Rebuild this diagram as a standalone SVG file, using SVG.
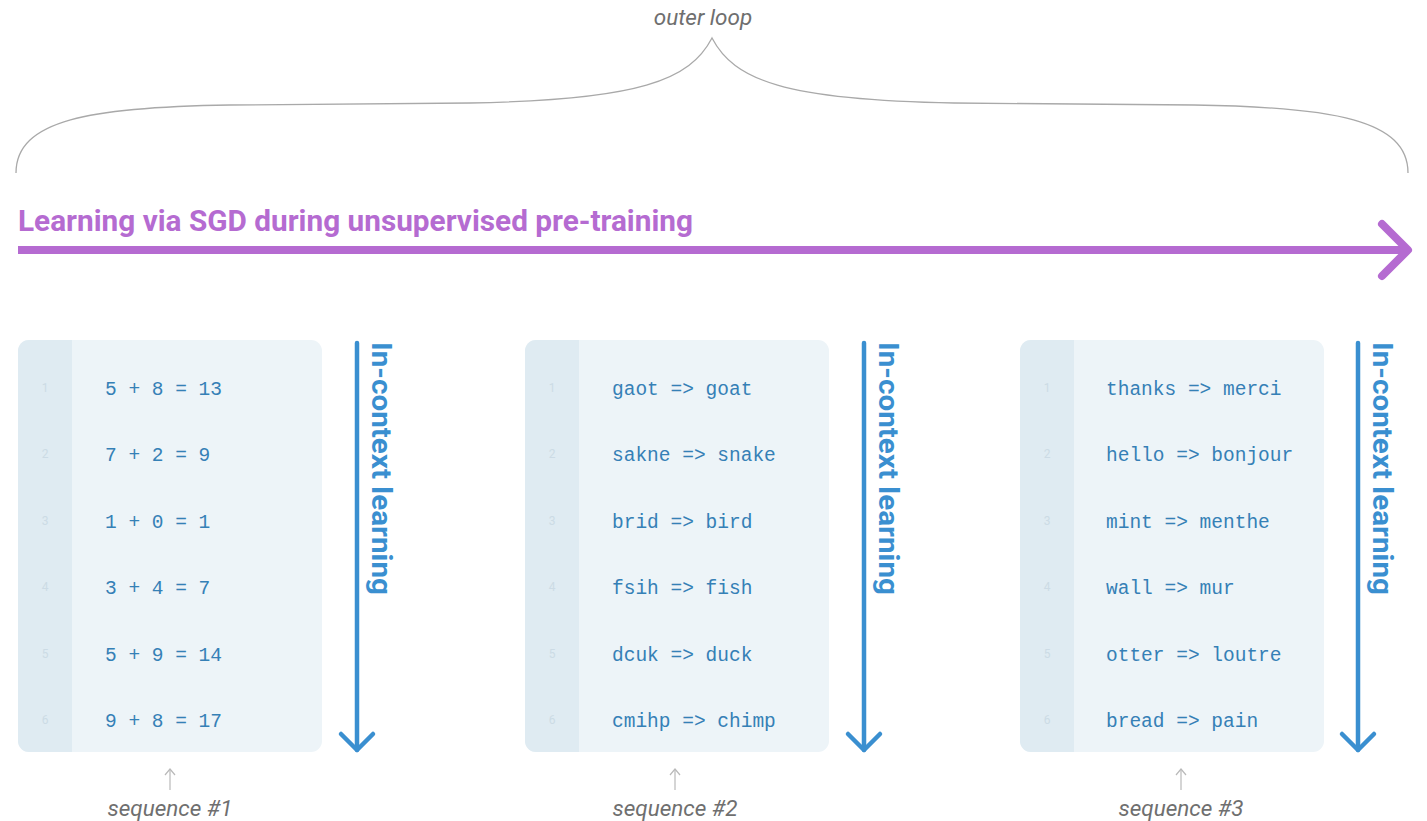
<svg xmlns="http://www.w3.org/2000/svg" width="1427" height="821" viewBox="0 0 1427 821">
  <style>
    .title { font-family: Roboto, "Liberation Sans", sans-serif; font-weight: 700; font-size: 30px; fill: #b56bd1; }
    .note { font-family: Roboto, "Liberation Sans", sans-serif; font-style: italic; font-size: 22.5px; fill: #6f6f6f; }
    .code { font-family: "Liberation Mono", "DejaVu Sans Mono", monospace; font-size: 19.5px; fill: #3580b6; }
    .ln { font-family: Roboto, "Liberation Sans", sans-serif; font-size: 12px; fill: #ccdbe5; text-anchor: middle; }
    .icl { font-family: Roboto, "Liberation Sans", sans-serif; font-weight: 700; font-size: 28.5px; fill: #3a8fd0; }
    .panel { fill: #edf4f8; }
    .gutter { fill: #dfebf2; }
    .blue { stroke: #3a8fd0; stroke-width: 4.5; fill: none; stroke-linecap: round; stroke-linejoin: round; }
    .tick { stroke: #b9b9b9; stroke-width: 1.2; fill: none; }
  </style>

  <!-- outer loop brace -->
  <g id="outer-loop">
    <path d="M16 173 C16 120 90 107 230 105 L470 103 C640 100 690 80 712 38 C734 80 784 100 954 103 L1194 105 C1334 107 1408 120 1408 173" fill="none" stroke="#a9a9a9" stroke-width="1.3"/>
    <text class="note" x="703" y="25" text-anchor="middle" font-size="21.5">outer loop</text>
  </g>

  <!-- pre-training arrow -->
  <g id="pretraining">
    <text class="title" x="18" y="231" textLength="675" lengthAdjust="spacingAndGlyphs">Learning via SGD during unsupervised pre-training</text>
    <line x1="18" y1="250" x2="1404" y2="250" stroke="#b56bd1" stroke-width="8"/>
    <polyline points="1382,224 1408,250 1382,276" fill="none" stroke="#b56bd1" stroke-width="8" stroke-linecap="round" stroke-linejoin="round"/>
  </g>

  <!-- sequence 1 -->
  <g id="seq1">
    <rect class="panel" x="18" y="340" width="304" height="412" rx="11"/>
    <path class="gutter" d="M29 340 H72 V752 H29 A11 11 0 0 1 18 741 V351 A11 11 0 0 1 29 340 Z"/>
    <text class="ln" x="45" y="392">1</text>
    <text class="ln" x="45" y="458">2</text>
    <text class="ln" x="45" y="525">3</text>
    <text class="ln" x="45" y="591">4</text>
    <text class="ln" x="45" y="658">5</text>
    <text class="ln" x="45" y="724">6</text>
    <text class="code" x="105" y="395">5 + 8 = 13</text>
    <text class="code" x="105" y="461">7 + 2 = 9</text>
    <text class="code" x="105" y="528">1 + 0 = 1</text>
    <text class="code" x="105" y="594">3 + 4 = 7</text>
    <text class="code" x="105" y="661">5 + 9 = 14</text>
    <text class="code" x="105" y="727">9 + 8 = 17</text>
    <line class="tick" x1="170" y1="770" x2="170" y2="790"/>
    <polyline class="tick" points="165,775 170,769 175,775"/>
    <text class="note" x="170" y="816" text-anchor="middle">sequence #1</text>
  </g>
  <g id="icl1">
    <line class="blue" x1="357" y1="343" x2="357" y2="750"/>
    <polyline class="blue" points="341,734 357,750 373,734"/>
    <text class="icl" transform="translate(372 342) rotate(90)" textLength="253" lengthAdjust="spacingAndGlyphs">In-context learning</text>
  </g>

  <!-- sequence 2 -->
  <g id="seq2">
    <rect class="panel" x="525" y="340" width="304" height="412" rx="11"/>
    <path class="gutter" d="M536 340 H579 V752 H536 A11 11 0 0 1 525 741 V351 A11 11 0 0 1 536 340 Z"/>
    <text class="ln" x="552" y="392">1</text>
    <text class="ln" x="552" y="458">2</text>
    <text class="ln" x="552" y="525">3</text>
    <text class="ln" x="552" y="591">4</text>
    <text class="ln" x="552" y="658">5</text>
    <text class="ln" x="552" y="724">6</text>
    <text class="code" x="612" y="395">gaot =&gt; goat</text>
    <text class="code" x="612" y="461">sakne =&gt; snake</text>
    <text class="code" x="612" y="528">brid =&gt; bird</text>
    <text class="code" x="612" y="594">fsih =&gt; fish</text>
    <text class="code" x="612" y="661">dcuk =&gt; duck</text>
    <text class="code" x="612" y="727">cmihp =&gt; chimp</text>
    <line class="tick" x1="675" y1="770" x2="675" y2="790"/>
    <polyline class="tick" points="670,775 675,769 680,775"/>
    <text class="note" x="675" y="816" text-anchor="middle">sequence #2</text>
  </g>
  <g id="icl2">
    <line class="blue" x1="864" y1="343" x2="864" y2="750"/>
    <polyline class="blue" points="848,734 864,750 880,734"/>
    <text class="icl" transform="translate(879 342) rotate(90)" textLength="253" lengthAdjust="spacingAndGlyphs">In-context learning</text>
  </g>

  <!-- sequence 3 -->
  <g id="seq3">
    <rect class="panel" x="1020" y="340" width="304" height="412" rx="11"/>
    <path class="gutter" d="M1031 340 H1074 V752 H1031 A11 11 0 0 1 1020 741 V351 A11 11 0 0 1 1031 340 Z"/>
    <text class="ln" x="1047" y="392">1</text>
    <text class="ln" x="1047" y="458">2</text>
    <text class="ln" x="1047" y="525">3</text>
    <text class="ln" x="1047" y="591">4</text>
    <text class="ln" x="1047" y="658">5</text>
    <text class="ln" x="1047" y="724">6</text>
    <text class="code" x="1106" y="395">thanks =&gt; merci</text>
    <text class="code" x="1106" y="461">hello =&gt; bonjour</text>
    <text class="code" x="1106" y="528">mint =&gt; menthe</text>
    <text class="code" x="1106" y="594">wall =&gt; mur</text>
    <text class="code" x="1106" y="661">otter =&gt; loutre</text>
    <text class="code" x="1106" y="727">bread =&gt; pain</text>
    <line class="tick" x1="1181" y1="770" x2="1181" y2="790"/>
    <polyline class="tick" points="1176,775 1181,769 1186,775"/>
    <text class="note" x="1181" y="816" text-anchor="middle">sequence #3</text>
  </g>
  <g id="icl3">
    <line class="blue" x1="1358" y1="343" x2="1358" y2="750"/>
    <polyline class="blue" points="1342,734 1358,750 1374,734"/>
    <text class="icl" transform="translate(1373 342) rotate(90)" textLength="253" lengthAdjust="spacingAndGlyphs">In-context learning</text>
  </g>
</svg>
